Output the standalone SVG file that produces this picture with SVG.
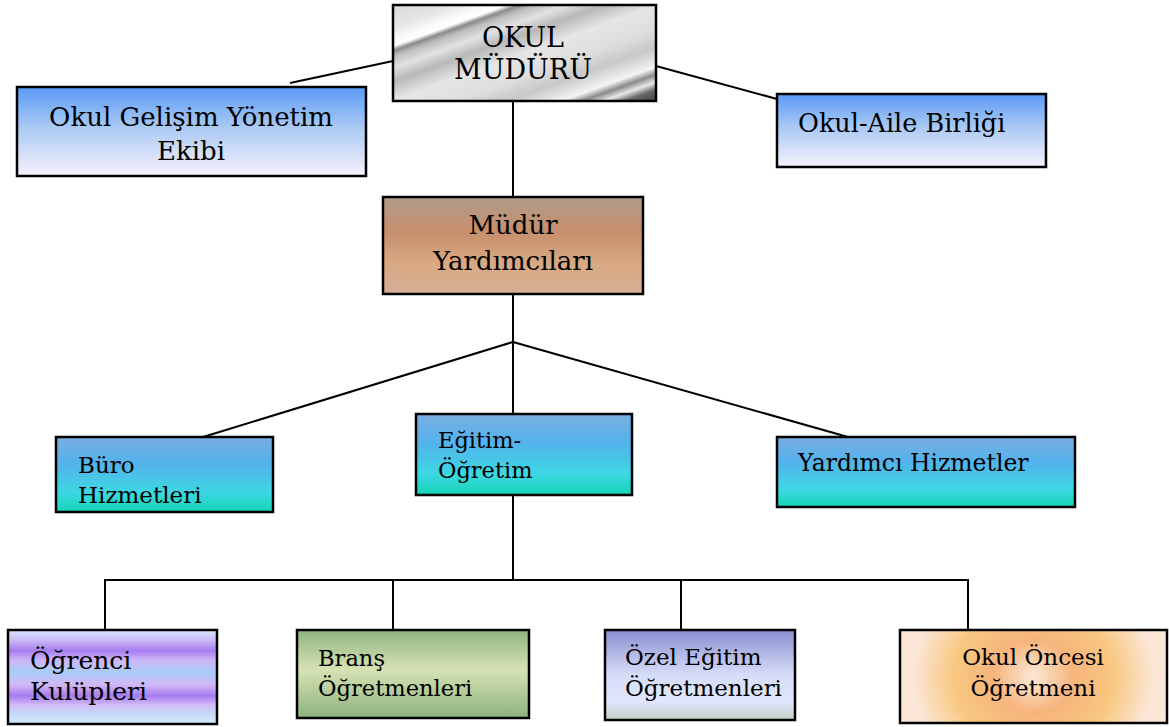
<svg xmlns="http://www.w3.org/2000/svg" width="1169" height="727" viewBox="0 0 1169 727">
<style>
.box{stroke:#000;stroke-width:2.5}
.t{font-family:"DejaVu Serif","Liberation Serif",serif;fill:#000}
.conn line{stroke:#000;stroke-width:2}
</style>
<defs>
<linearGradient id="metal" gradientUnits="userSpaceOnUse" x1="393" y1="5" x2="454" y2="174">
<stop offset="0" stop-color="#d8d8d8"/>
<stop offset="0.12" stop-color="#e6e6e6"/>
<stop offset="0.18" stop-color="#fafafa"/>
<stop offset="0.215" stop-color="#ffffff"/>
<stop offset="0.24" stop-color="#8a8a8a"/>
<stop offset="0.27" stop-color="#bdbdbd"/>
<stop offset="0.33" stop-color="#e2e2e2"/>
<stop offset="0.4" stop-color="#b8b8b8"/>
<stop offset="0.5" stop-color="#e6e6e6"/>
<stop offset="0.62" stop-color="#dedede"/>
<stop offset="0.72" stop-color="#c8c8c8"/>
<stop offset="0.82" stop-color="#f4f4f4"/>
<stop offset="0.86" stop-color="#8a8a8a"/>
<stop offset="0.9" stop-color="#e8e8e8"/>
<stop offset="0.94" stop-color="#666"/>
<stop offset="1" stop-color="#444"/>
</linearGradient>
<linearGradient id="blue" x1="0" y1="0" x2="0" y2="1">
<stop offset="0" stop-color="#5a9af6"/>
<stop offset="0.45" stop-color="#a9c9f4"/>
<stop offset="1" stop-color="#f7f2fb"/>
</linearGradient>
<linearGradient id="brown" x1="0" y1="0" x2="0" y2="1">
<stop offset="0" stop-color="#b19c8c"/>
<stop offset="0.35" stop-color="#c68e6d"/>
<stop offset="0.7" stop-color="#d9aa82"/>
<stop offset="1" stop-color="#d6ae98"/>
</linearGradient>
<linearGradient id="teal" x1="0" y1="0" x2="0" y2="1">
<stop offset="0" stop-color="#7aaee0"/>
<stop offset="0.35" stop-color="#54b2ec"/>
<stop offset="0.75" stop-color="#3cd8e2"/>
<stop offset="1" stop-color="#14d4b4"/>
</linearGradient>
<linearGradient id="purple" x1="0" y1="0" x2="0" y2="1">
<stop offset="0" stop-color="#d6e8fc"/>
<stop offset="0.12" stop-color="#c8b4f6"/>
<stop offset="0.22" stop-color="#a67cf0"/>
<stop offset="0.32" stop-color="#cfb6f8"/>
<stop offset="0.45" stop-color="#a8cdf6"/>
<stop offset="0.58" stop-color="#d2b8f6"/>
<stop offset="0.7" stop-color="#a67cf0"/>
<stop offset="0.8" stop-color="#d4bcf8"/>
<stop offset="0.9" stop-color="#c6dcf8"/>
<stop offset="1" stop-color="#d8e8fc"/>
</linearGradient>
<linearGradient id="green" x1="0" y1="0" x2="0" y2="1">
<stop offset="0" stop-color="#8fb47f"/>
<stop offset="0.45" stop-color="#d6e2b4"/>
<stop offset="1" stop-color="#8db27c"/>
</linearGradient>
<linearGradient id="lav" x1="0" y1="0" x2="0" y2="1">
<stop offset="0" stop-color="#8a8ed0"/>
<stop offset="0.5" stop-color="#d6ddf8"/>
<stop offset="0.8" stop-color="#e0e6fb"/>
<stop offset="1" stop-color="#c4d0c4"/>
</linearGradient>
<radialGradient id="orange" cx="0.5" cy="0.5" r="0.6" gradientTransform="translate(0.5 0.5) scale(1 2.6) translate(-0.5 -0.5)">
<stop offset="0" stop-color="#fbe9d8"/>
<stop offset="0.25" stop-color="#f6b47c"/>
<stop offset="0.5" stop-color="#f8c880"/>
<stop offset="0.75" stop-color="#fbe6d8"/>
<stop offset="1" stop-color="#fcebd4"/>
</radialGradient>
</defs>

<g id="connectors" class="conn">
<line x1="290" y1="83" x2="393" y2="61"/>
<line x1="656" y1="66" x2="777" y2="99"/>
<line x1="513" y1="101" x2="513" y2="197"/>
<line x1="513" y1="294" x2="513" y2="342"/>
<line x1="513" y1="342" x2="203" y2="437"/>
<line x1="513" y1="342" x2="513" y2="414"/>
<line x1="513" y1="342" x2="848" y2="437"/>
<line x1="513" y1="495" x2="513" y2="580"/>
<line x1="104" y1="580" x2="969" y2="580"/>
<line x1="105" y1="580" x2="105" y2="630"/>
<line x1="393" y1="580" x2="393" y2="630"/>
<line x1="681" y1="580" x2="681" y2="630"/>
<line x1="968" y1="580" x2="968" y2="630"/>
</g>

<g id="okul-muduru">
<rect class="box" x="393" y="5" width="263" height="96" fill="url(#metal)"/>
<text class="t" x="523" y="47" font-size="27" text-anchor="middle">OKUL</text>
<text class="t" x="523" y="79" font-size="27" text-anchor="middle">MÜDÜRÜ</text>
</g>

<g id="gelisim">
<rect class="box" x="17" y="87" width="349" height="89" fill="url(#blue)"/>
<text class="t" x="191" y="126" font-size="26" text-anchor="middle">Okul Gelişim Yönetim</text>
<text class="t" x="191" y="160" font-size="26" text-anchor="middle">Ekibi</text>
</g>

<g id="aile-birligi">
<rect class="box" x="777" y="94" width="269" height="73" fill="url(#blue)"/>
<text class="t" x="798" y="132" font-size="25.5">Okul-Aile Birliği</text>
</g>

<g id="mudur-yardimcilari">
<rect class="box" x="383" y="197" width="260" height="97" fill="url(#brown)"/>
<text class="t" x="513" y="234" font-size="26" text-anchor="middle">Müdür</text>
<text class="t" x="513" y="270" font-size="26" text-anchor="middle">Yardımcıları</text>
</g>

<g id="buro">
<rect class="box" x="56" y="437" width="217" height="75" fill="url(#teal)"/>
<text class="t" x="78" y="473" font-size="23">Büro</text>
<text class="t" x="78" y="503" font-size="23">Hizmetleri</text>
</g>

<g id="egitim-ogretim">
<rect class="box" x="416" y="414" width="216" height="81" fill="url(#teal)"/>
<text class="t" x="438" y="448" font-size="22.5">Eğitim-</text>
<text class="t" x="438" y="478" font-size="22.5">Öğretim</text>
</g>

<g id="yardimci-hizmetler">
<rect class="box" x="777" y="437" width="298" height="70" fill="url(#teal)"/>
<text class="t" x="798" y="471" font-size="23.5">Yardımcı Hizmetler</text>
</g>

<g id="ogrenci-kulupleri">
<rect class="box" x="8" y="630" width="209" height="94" fill="url(#purple)"/>
<text class="t" x="30" y="669" font-size="25">Öğrenci</text>
<text class="t" x="30" y="700" font-size="25">Kulüpleri</text>
</g>

<g id="brans">
<rect class="box" x="297" y="630" width="232" height="88" fill="url(#green)"/>
<text class="t" x="318" y="666" font-size="22.6">Branş</text>
<text class="t" x="318" y="696" font-size="22.6">Öğretmenleri</text>
</g>

<g id="ozel-egitim">
<rect class="box" x="605" y="630" width="190" height="90" fill="url(#lav)"/>
<text class="t" x="625" y="665" font-size="23">Özel Eğitim</text>
<text class="t" x="625" y="696" font-size="23">Öğretmenleri</text>
</g>

<g id="okul-oncesi">
<rect class="box" x="900" y="630" width="267" height="93" fill="url(#orange)"/>
<text class="t" x="1033" y="665" font-size="23" text-anchor="middle">Okul Öncesi</text>
<text class="t" x="1033" y="696" font-size="23" text-anchor="middle">Öğretmeni</text>
</g>
</svg>
